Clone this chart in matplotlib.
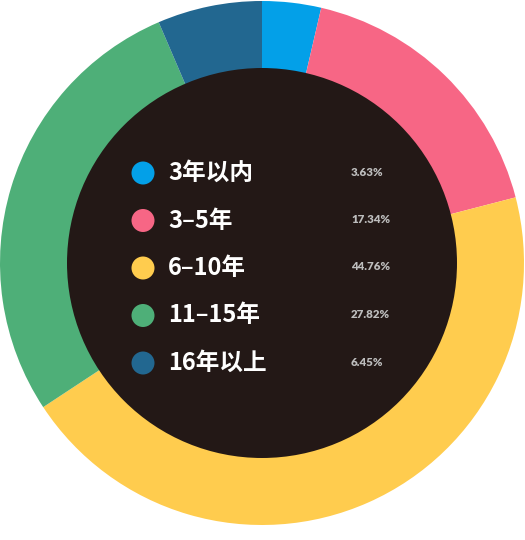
import matplotlib
matplotlib.use("Agg")
import matplotlib.pyplot as plt
from matplotlib.patches import Circle

categories = ["3年以内", "3–5年", "6–10年", "11–15年", "16年以上"]
values = [3.63, 17.34, 44.76, 27.82, 6.45]
pct_labels = ["3.63%", "17.34%", "44.76%", "27.82%", "6.45%"]
colors = ["#03A0E8", "#F76685", "#FFCC4E", "#4EAF78", "#226790"]

W, H = 525, 540
fig = plt.figure(figsize=(W / 100, H / 100), dpi=100)
ax = fig.add_axes([0, 0, 1, 1])

cx, cy = 262, H - 263
R_out, R_in = 262, 195

ax.pie(values, colors=colors, startangle=90, counterclock=False,
       radius=R_out, center=(cx, cy), frame=True,
       wedgeprops=dict(linewidth=0, antialiased=True))
ax.add_patch(Circle((cx, cy), R_in, color="#231816", zorder=3, linewidth=0))

ax.set_xlim(0, W)
ax.set_ylim(0, H)
ax.set_aspect("equal")
ax.axis("off")

y0, dy = 173, 47.5
for i, (cat, col, pct) in enumerate(zip(categories, colors, pct_labels)):
    yp = H - (y0 + i * dy)
    ax.add_patch(Circle((143, yp), 11.5, color=col, zorder=4, linewidth=0))
    ax.text(168, yp, cat, color="white", fontsize=17, fontweight="heavy",
            family=["Noto Sans CJK SC", "DejaVu Sans"], va="center", ha="left", zorder=5)
    ax.text(351, yp + 1, pct, color="#BDBDBD", fontsize=8.3, fontweight="heavy",
            family=["Lato", "DejaVu Sans"], va="center", ha="left", zorder=5)

fig.savefig("out.png", dpi=100, facecolor="white")
